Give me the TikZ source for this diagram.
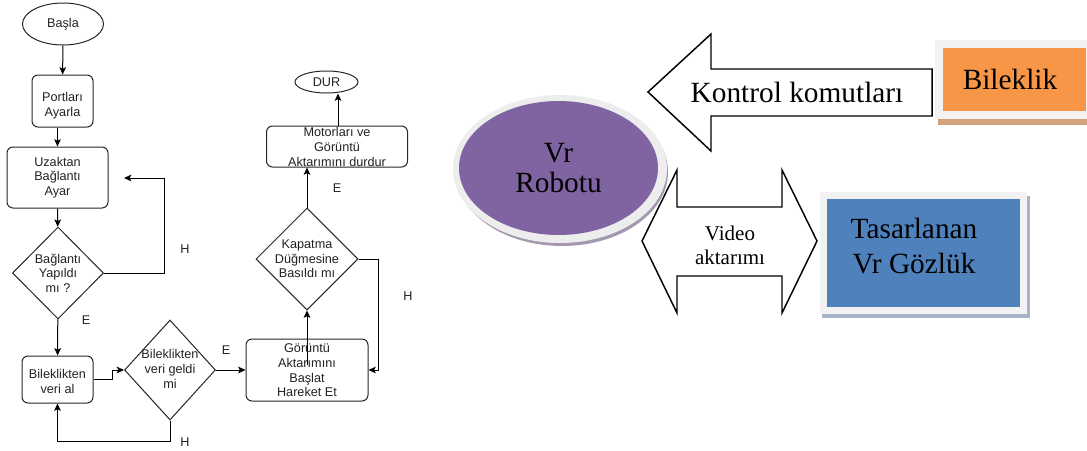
\documentclass[tikz,border=0pt]{standalone}
\usepackage{fontspec}
\usepackage{graphicx}
\setmainfont{Liberation Serif}
\newfontfamily\flowfont{Liberation Sans}
\usetikzlibrary{shapes.geometric,arrows.meta,calc}

\definecolor{bandorange}{HTML}{F79646}
\definecolor{robotpurple}{HTML}{8064A2}
\definecolor{glassblue}{HTML}{4F81BD}
\definecolor{framegray}{HTML}{F2F2F2}
\definecolor{orangeshadow}{HTML}{D2A27E}
\definecolor{blueshadow}{HTML}{A7B4C8}
\definecolor{ringgray}{HTML}{EDEDED}
\definecolor{ringshadow}{HTML}{A398AE}
\definecolor{flowtext}{HTML}{222222}

\tikzset{
  flow/.style={font=\flowfont\fontsize{9.5}{11}\selectfont, text=flowtext, align=center},
  stepbox/.style={flow, draw=black!85, line width=0.75pt, rounded corners=4.5pt,
    inner sep=0pt},
  termbox/.style={flow, draw=black!85, line width=0.75pt, ellipse, inner sep=0pt},
  decbox/.style={draw=black!85, line width=0.75pt, diamond, inner sep=0pt},
  flowarr/.style={draw=black, line width=0.75pt,
    -{Stealth[length=5.5pt,width=5pt,inset=1.2pt]}},
  flowlbl/.style={flow},
  blockarr/.style={draw=black, line width=1.1pt, fill=white, line join=miter},
  serifbig/.style={font=\fontsize{22}{23}\selectfont, align=center, text=black},
}

\begin{document}
\begin{tikzpicture}[x=0.75pt, y=-0.75pt]
\useasboundingbox (0,0) rectangle (1087,450);

% ---------------- flowchart ----------------
\node[termbox, minimum width=81*0.75pt, minimum height=42*0.75pt] (bsl) at (63,24) {Başla};
\node[stepbox, minimum width=61*0.75pt, minimum height=52*0.75pt] (prt) at (62.5,101) {};
\node[flow] at (62.5,106) {Portları\\Ayarla};
\node[stepbox, minimum width=101*0.75pt, minimum height=61*0.75pt] (uzk) at (57.5,177.5) {Uzaktan\\Bağlantı\\Ayar};
\node[decbox, minimum width=91*0.75pt, minimum height=92*0.75pt,
  label={[flow]center:Bağlantı\\Yapıldı\\mı ?}] (d1) at (58,273) {};
\node[stepbox, minimum width=71*0.75pt, minimum height=47*0.75pt] (blk) at (57.5,379.5) {};
\node[flow] at (57.5,381.5) {Bileklikten\\veri al};
\node[decbox, minimum width=91*0.75pt, minimum height=100*0.75pt,
  label={[flow, yshift=0.75pt]center:Bileklikten\\veri geldi\\mi}] (d2) at (170,370) {};
\node[stepbox, minimum width=122*0.75pt, minimum height=62*0.75pt] (gor) at (307,370) {};
\node[decbox, minimum width=102*0.75pt, minimum height=102*0.75pt,
  label={[flow]center:Kapatma\\Düğmesine\\Basıldı mı}] (d3) at (307,259) {};
\node[stepbox, minimum width=141*0.75pt, minimum height=41*0.75pt] (mot) at (337,146.5) {};
\node[termbox, minimum width=63*0.75pt, minimum height=22*0.75pt] (dur) at (326.5,82) {DUR};

\coordinate (ret1) at (124,178);
\coordinate (ret1c) at (164,178);

\draw[flowarr] (bsl) -- (prt);
\draw[flowarr] (prt.south -| uzk.north) -- (uzk.north);
\draw[flowarr] (uzk) -- (d1);
\draw[flowarr] (d1.east) -| (ret1c) -- (ret1);
\draw[flowarr] (d1) -- (blk);
\draw[flowarr] (blk.east) -- ++(19,0) |- (d2.west);
\draw[flowarr] (d2.south) -- ++(0,21) -| (blk.south);
\draw[flowarr] (d2) -- (gor);
\draw[flowarr] ([yshift=3.75pt]gor.center) -- (d3.south);
\draw[flowarr] (d3.east) -- ++(20,0) |- (gor.east);
\draw[flowarr] (d3.north) -- (d3.north |- mot.south);
\draw[flowarr] ([xshift=0.75pt]mot.north) -- ([xshift=0.75pt]mot.north |- dur.south);

% texts drawn over the connectors
\node[flow] at (307,370.5) {Görüntü\\Aktarımını\\Başlat\\Hareket Et};
\node[flow] at (337,147) {Motorları ve\\Görüntü\\Aktarımını durdur};

\node[flowlbl] at (185,249) {H};
\node[flowlbl] at (86,320) {E};
\node[flowlbl] at (185,442) {H};
\node[flowlbl] at (226,350) {E};
\node[flowlbl] at (337,188) {E};
\node[flowlbl] at (408,296) {H};

% ---------------- system sketch ----------------
% robot
\fill[ringshadow] (562,172) ellipse [x radius=106, y radius=74];
\fill[ringgray] (560,169) ellipse [x radius=107, y radius=74];
\node[ellipse, fill=robotpurple, minimum width=199*0.75pt, minimum height=134*0.75pt,
  inner sep=0pt, serifbig] (robot) at (558.5,168) {Vr\\Robotu};

% command arrow
\draw[blockarr] (648,92) -- (711,34) -- (711,69) -- (932,69) -- (932,116)
  -- (711,116) -- (711,151) -- cycle;
\node[serifbig] (cmd) at (797,92) {Kontrol komutları};

% video arrow
\draw[blockarr] (642,241) -- (677,170) -- (677,207) -- (782,207) -- (782,170)
  -- (817,241) -- (782,313) -- (782,276) -- (677,276) -- (677,313) -- cycle;
\node[font=\fontsize{15.75}{18}\selectfont, align=center] (vid) at (730,245) {Video\\aktarımı};

% wristband
\fill[orangeshadow] (938,119) rectangle (1087,125);
\fill[framegray] (935,40) rectangle (1087,119);
\node[fill=bandorange, minimum width=143*0.75pt, minimum height=63*0.75pt,
  inner sep=0pt] (band) at (1014.5,79.5) {};
\node[serifbig] at (1010,79) {Bileklik};

% goggles
\fill[blueshadow] (822,196) rectangle (1030,318);
\fill[framegray] (820,192) rectangle (1027,314);
\node[fill=glassblue, minimum width=193*0.75pt, minimum height=108*0.75pt,
  inner sep=0pt] (glass) at (923.5,253) {};
\node[font=\fontsize{22}{26}\selectfont, align=center] at (914,246) {Tasarlanan\\Vr Gözlük};
\end{tikzpicture}
\end{document}
